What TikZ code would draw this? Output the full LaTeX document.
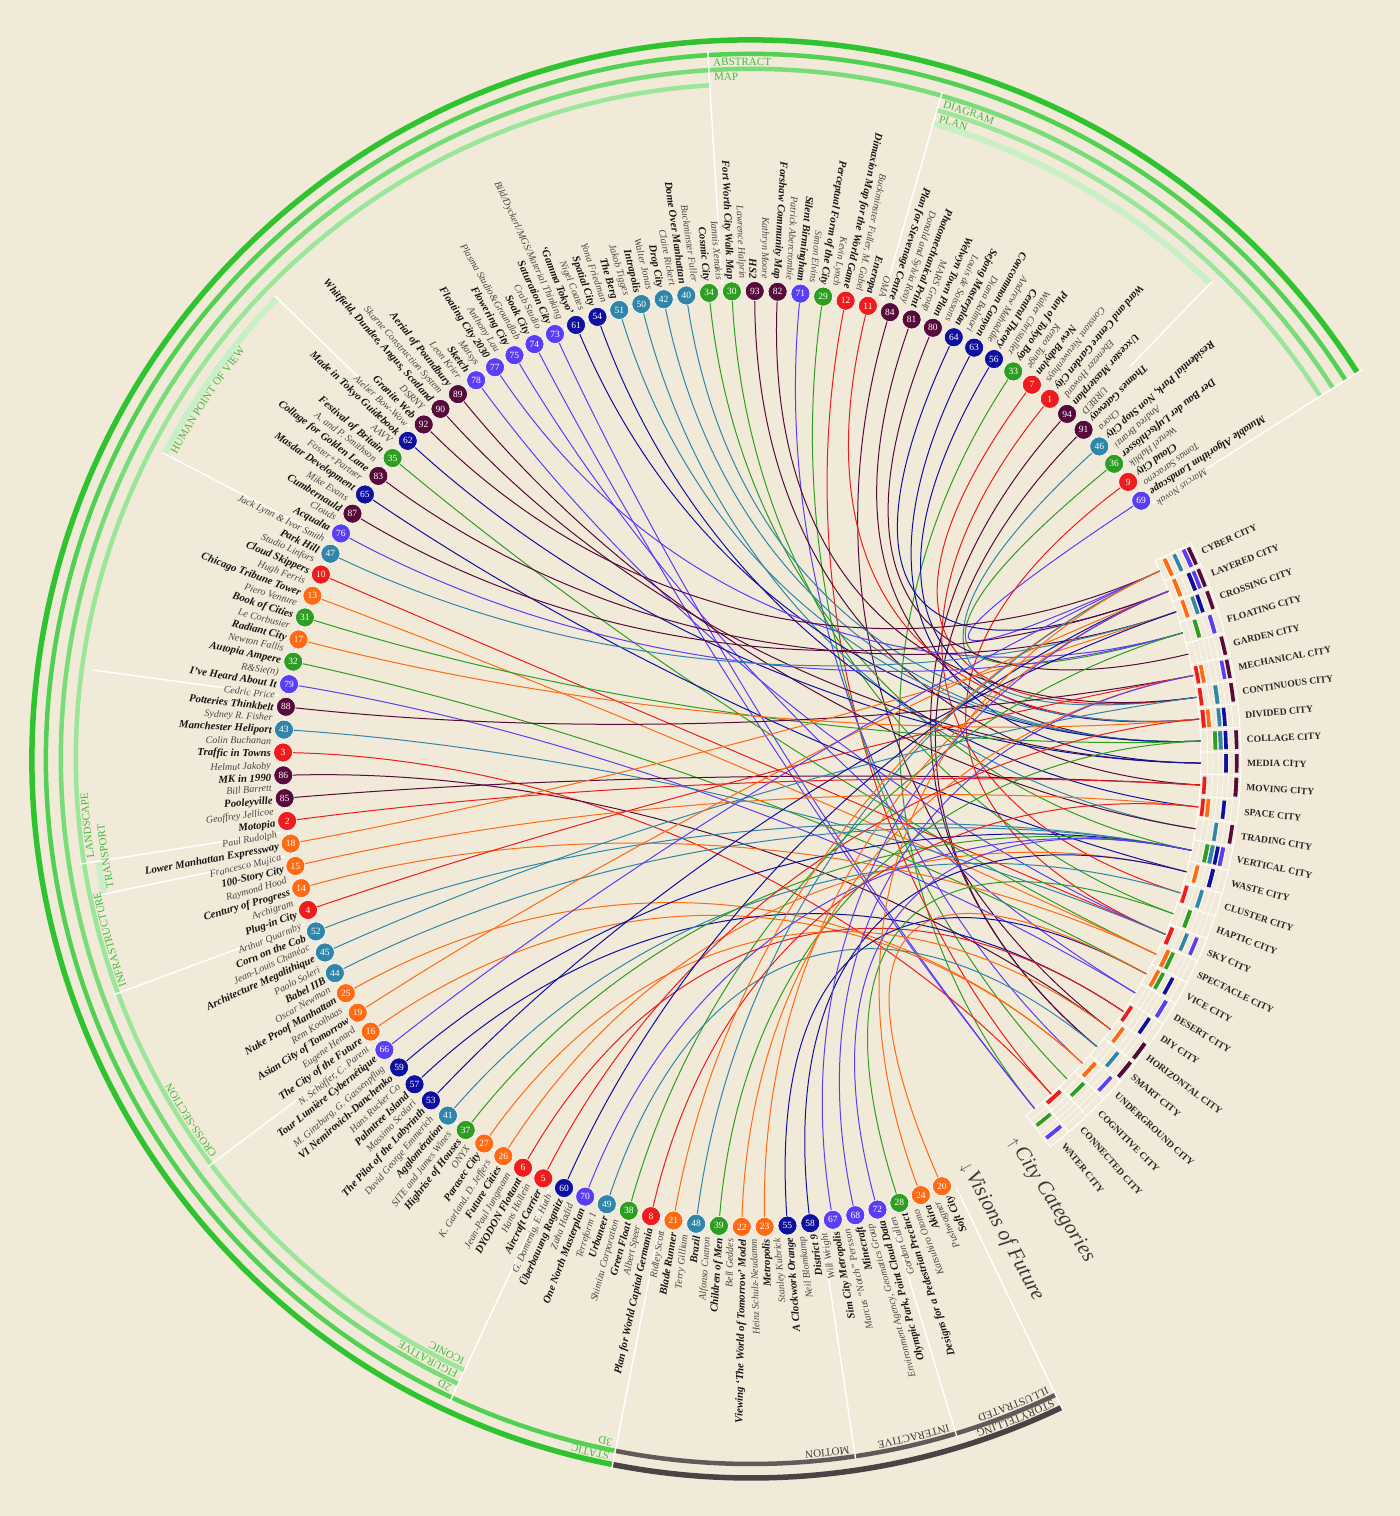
\documentclass[tikz,border=0pt]{standalone}
\usepackage{fontspec}
\setmainfont{Liberation Serif}
\usetikzlibrary{decorations.text}
\definecolor{bg}{HTML}{F1EAD8}
\definecolor{cRed}{HTML}{EE1C1C}
\definecolor{cOrange}{HTML}{FF6A13}
\definecolor{cGreen}{HTML}{2E9E22}
\definecolor{cTeal}{HTML}{2F86A8}
\definecolor{cNavy}{HTML}{10109E}
\definecolor{cViolet}{HTML}{5B3DF5}
\definecolor{cMaroon}{HTML}{560B3B}
\definecolor{gA}{HTML}{2FC42F}
\definecolor{gB}{HTML}{52D052}
\definecolor{gC}{HTML}{78DC78}
\definecolor{gD}{HTML}{9BE69B}
\definecolor{gE}{HTML}{C8F0C6}
\definecolor{dA}{HTML}{4A4343}
\definecolor{dB}{HTML}{625A5A}
\definecolor{lblG}{HTML}{3DBE3D}
\definecolor{lblD}{HTML}{3F3939}
\definecolor{authc}{HTML}{4A4545}
\definecolor{titc}{HTML}{151515}
\definecolor{catc}{HTML}{2A2626}
\definecolor{vtext}{HTML}{3B3838}

\newcommand\itemcolor[1]{\ifnum#1<13 cRed\else\ifnum#1<28 cOrange\else\ifnum#1<40 cGreen\else\ifnum#1<53 cTeal\else\ifnum#1<66 cNavy\else\ifnum#1<80 cViolet\else cMaroon\fi\fi\fi\fi\fi\fi}
\newcommand\itemlane[1]{\ifnum#1<13 0\else\ifnum#1<28 1\else\ifnum#1<40 2\else\ifnum#1<53 3\else\ifnum#1<66 4\else\ifnum#1<80 5\else 6\fi\fi\fi\fi\fi\fi}
\newcommand\seg[5]{\draw[draw=#1, line width=#5pt] (#3:#2pt) arc[start angle=#3, end angle=#4, radius=#2pt];}
\newcommand\rlabel[4]{\path[decorate, decoration={text along path, text align=left, text={|\color{#1}\fontsize{11}{12}\selectfont|#4}}] (#3:#2pt) arc[start angle=#3, end angle=#3-45, radius=#2pt];}

\def\items{1/69/{Mutable Algorithm Landscape}/{Marcus Novak}/1,
2/9/{Cloud City}/{Tomas Saraceno}/18,
3/36/{Der Bau der Luftschlösser}/{Wenzel Hablik}/4,
4/46/{Residential Park, Non Stop City}/{Andrea Branzi}/7,
5/91/{Thames Gateway}/{Chora}/24,
6/94/{Uxcester Masterplan}/{URBED}/24,
7/1/{Ward and Centre Garden City}/{Ebenezer Howard}/16,
8/7/{New Babylon}/{Constant Nieuwenhuys}/7,
9/33/{Plan of Tokyo Bay}/{Kenzo Tange}/28,
10/56/{Central Theory}/{Walter Christaller}/8,
11/63/{Concommon Canyon}/{Andrew Mahaddie}/10,
12/64/{Sejong Masterplan}/{Diana Balmori}/2,
13/80/{Welwyn Town Plan}/{Louis de Soissons}/5,
14/81/{Photomechanical Print}/{MARS Group}/9,
15/84/{Plan for Stevenage Centre}/{Donald and Sylvia Reay}/23,
16/11/{Eneropa}/{OMA}/8,
17/12/{Dimaxion Map for the World Game}/{Buckminster Fuller, M. Gabel}/27,
18/29/{Perceptual Form of the City}/{Kevin Lynch}/26,
19/71/{Silent Birmingham}/{Simon Elvins}/25,
20/82/{Forshaw Community Map}/{Patrick Abercrombie}/7,
21/93/{HS2}/{Kathryn Moore}/11,
22/30/{Fort Worth City Walk Map}/{Lawrence Halprin}/17,
23/34/{Cosmic City}/{Iannis Xenakis}/14,
24/40/{Dome Over Manhattan}/{Buckminster Fuller}/8,
25/42/{Drop City}/{Claire Rickert}/9,
26/50/{Intrapolis}/{Walter Jonas}/13,
27/51/{The Berg}/{Jakob Tigges}/9,
28/54/{Spatial City}/{Yona Friedman}/12,
29/61/{`Gamma Tokyo'}/{Nigel Coates}/9,
30/73/{Saturation City}/{Bild/Dyckerl/MGS/Material Thinking}/28,
31/74/{Soak City}/{Crab Studio}/28,
32/75/{Flowering City}/{Plasma Studio\&Groundlab}/21,
33/77/{Floating City 2030}/{Anthony Lau}/4,
34/78/{Sketch}/{Matsys}/18,
35/89/{Aerial of Poundbury}/{Leon Krier}/13,
36/90/{Whitfield, Dundee, Angus, Scotland}/{Skarne Construction System}/10,
37/92/{Granite Web}/{DSRNY}/1,
38/62/{Made in Tokyo Guidebook}/{Atelier Bow-Wow}/10,
39/35/{Festival of Britain}/{AAVV}/19,
40/83/{Collage for Golden Lane}/{A. and P. Smithson}/3,
41/65/{Masdar Development}/{Foster+Partner}/15,
42/87/{Cumbernauld}/{Mike Evans}/2,
43/76/{Acqualta}/{Clouds}/4,
44/47/{Park Hill}/{Jack Lynn \& Ivor Smith}/3,
45/10/{Cloud Skippers}/{Studio Linfors}/18,
46/13/{Chicago Tribune Tower}/{Hugh Ferris}/19,
47/31/{Book of Cities}/{Piero Venture}/9,
48/17/{Radiant City}/{Le Corbusier}/8,
49/32/{Autopia Ampere}/{Newton Fallis}/20,
50/79/{I've Heard About It}/{R\&Sie(n)}/21,
51/88/{Potteries Thinkbelt}/{Cedric Price}/6,
52/43/{Manchester Heliport}/{Sydney R. Fisher}/18,
53/3/{Traffic in Towns}/{Colin Buchanan}/27,
54/86/{MK in 1990}/{Helmut Jakoby}/23,
55/85/{Pooleyville}/{Bill Barrett}/11,
56/2/{Motopia}/{Geoffrey Jellicoe}/11,
57/18/{Lower Manhattan Expressway}/{Paul Rudolph}/3,
58/15/{100-Story City}/{Francesco Mujica}/12,
59/14/{Century of Progress}/{Raymond Hood}/19,
60/4/{Plug-in City}/{Archigram}/6,
61/52/{Corn on the Cob}/{Arthur Quarmby}/14,
62/45/{Architecture Megalithique}/{Jean-Louis Chanéac}/7,
63/44/{Babel IIB}/{Paolo Soleri}/14,
64/25/{Nuke Proof Manhattan}/{Oscar Newman}/25,
65/19/{Asian City of Tomorrow}/{Rem Koolhaas}/2,
66/16/{The City of the Future}/{Eugene Henard}/25,
67/66/{Tour Lumière Cybernétique}/{N. Schöffer, C. Parent}/1,
68/59/{VI Nemirovich-Danchenko}/{M. Ginzburg, G. Gassenpflug}/14,
69/57/{Palmtree Island}/{Hans Rucker Co}/22,
70/53/{The Pilot of the Labyrinth}/{Massimo Scolari}/3,
71/41/{Agglomération}/{David George Emmerich}/16,
72/37/{Highrise of Houses}/{SITE and James Wines}/14,
73/27/{Parasec City}/{ONYX}/23,
74/26/{Future Cities}/{K. Garland, D. Jeffers}/15,
75/6/{DYODON Flottant}/{Jean-Paul Jungmann}/22,
76/5/{Aircraft Carrier}/{Hans Hollein}/8,
77/60/{Überbauung Ragnitz}/{G. Domenig, E. Huth}/2,
78/70/{One North Masterplan}/{Zaha Hadid}/14,
79/49/{Urbaneer}/{Terreform 1}/24,
80/38/{Green Float}/{Shimizu Corporation}/4,
81/8/{Plan for World Capital Germania}/{Albert Speer}/12,
82/21/{Blade Runner}/{Ridley Scott}/1,
83/48/{Brazil}/{Terry Gilliam}/1,
84/39/{Children of Men}/{Alfonso Cuaron}/9,
85/22/{Viewing `The World of Tomorrow' Model}/{Bell Geddes}/6,
86/23/{Metropolis}/{Heinz Schulz-Neudamm}/2,
87/55/{A Clockwork Orange}/{Stanley Kubrick}/20,
88/58/{District 9}/{Neil Blomkamp}/15,
89/67/{Sim City Metropolis}/{Will Wright}/2,
90/68/{Minecraft}/{Marcus ``Notch'' Persson}/6,
91/72/{Olympic Park, Point Cloud Data}/{Environment Agency, Geomatics Group}/14,
92/28/{Designs for a Pedestrian Precinct}/{Gordon Cullen}/17,
93/24/{Akira}/{Katsuhiro Otomo}/1,
94/20/{Soft City}/{Pushwagner}/20}

\def\cats{1/CYBER CITY, 2/LAYERED CITY, 3/CROSSING CITY, 4/FLOATING CITY, 5/GARDEN CITY, 6/MECHANICAL CITY, 7/CONTINUOUS CITY, 8/DIVIDED CITY, 9/COLLAGE CITY, 10/MEDIA CITY, 11/MOVING CITY, 12/SPACE CITY, 13/TRADING CITY, 14/VERTICAL CITY, 15/WASTE CITY, 16/CLUSTER CITY, 17/HAPTIC CITY, 18/SKY CITY, 19/SPECTACLE CITY, 20/VICE CITY, 21/DESERT CITY, 22/DIY CITY, 23/HORIZONTAL CITY, 24/SMART CITY, 25/UNDERGROUND CITY, 26/COGNITIVE CITY, 27/CONNECTED CITY, 28/WATER CITY}

\begin{document}
\begin{tikzpicture}[x=1pt,y=1pt]
\fill[bg] (-751,-757) rectangle (649,759);
\useasboundingbox (-751,-757) rectangle (649,759);

% ---- outer classification rings
\seg{gA}{719}{258.9}{32.5}{5.5}
\seg{dA}{719}{295.6}{258.9}{5.5}
\seg{gB}{705}{258.9}{32.5}{4.5}
\seg{dB}{705}{295.6}{258.9}{4.5}
\seg{gC}{690}{244.9}{32.5}{4.5}
\seg{gD}{675}{244.9}{93.5}{4.5}
\seg{gD}{675}{74}{32.5}{4.5}
\seg{gE}{661}{74}{46}{6}
\seg{gE}{661}{152.5}{135.8}{6}
\seg{gE}{661}{191.8}{188.9}{6}

% ---- group separators
\foreach \ang/\rr/\rs in {32.5/725/476, 46/664/545, 74/694/476, 93.5/709/476, 135.8/664/476, 152.5/664/476, 172.3/664/476, 188.9/679/476, 191.8/664/476, 200.3/679/476, 216.9/679/476, 244.9/709/476, 258.9/725/476, 278.5/709/476, 286.9/709/476, 295.6/725/476}
  {\draw[white, line width=1.4pt] (\ang:\rs pt) -- (\ang:\rr pt);}

% ---- ring labels
\rlabel{lblG}{708}{258.5}{STATIC}
\rlabel{lblD}{708}{295.2}{STORYTELLING}
\rlabel{lblG}{694}{93.1}{ABSTRACT}
\rlabel{lblG}{694}{244.5}{2D}
\rlabel{lblG}{694}{258.5}{3D}
\rlabel{lblD}{694}{278.1}{MOTION}
\rlabel{lblD}{694}{286.5}{INTERACTIVE}
\rlabel{lblD}{694}{295.2}{ILLUSTRATED}
\rlabel{lblG}{679}{93.1}{MAP}
\rlabel{lblG}{679}{73.6}{DIAGRAM}
\rlabel{lblG}{679}{244.5}{FIGURATIVE}
\rlabel{lblG}{664}{73.6}{PLAN}
\rlabel{lblG}{664}{244.5}{ICONIC}
\rlabel{lblG}{664}{216.5}{CROSS-SECTION}
\rlabel{lblG}{664}{199.9}{INFRASTRUCTURE}
\rlabel{lblG}{664}{188.5}{LANDSCAPE}
\rlabel{lblG}{650}{152.1}{HUMAN POINT OF VIEW}
\rlabel{lblG}{650}{191.4}{TRANSPORT}

% ---- category slot grid
\foreach \j in {0,...,28}{\pgfmathsetmacro\tb{26.101-\j*2.802}\draw[white, line width=1pt] (\tb:450pt) -- (\tb:490pt);}
\foreach \rr/\w in {450/1, 456.65/0.5, 461.95/0.5, 467.25/0.5, 472.55/0.5, 477.85/0.5, 483.15/0.5, 490/1}
  {\draw[white, line width=\w pt] (26.101:\rr pt) arc[start angle=26.101, end angle=-52.355, radius=\rr pt];}

% ---- coordinates
\foreach \cat in {1,...,28}{\pgfmathsetmacro\tc{24.7-(\cat-1)*2.802}\coordinate (cat\cat) at (\tc:450pt);}
\foreach \idx/\nm/\ttl/\aut/\cat in \items {\pgfmathsetmacro\ti{33.5+(\idx-1)*2.802}\coordinate (p\nm) at (\ti:468pt);}

% ---- connectors
\foreach \idx/\nm/\ttl/\aut/\cat in \items {
  \pgfmathsetmacro\ti{33.5+(\idx-1)*2.802}
  \pgfmathsetmacro\tc{24.7-(\cat-1)*2.802}
  \edef\col{\itemcolor{\nm}}
  \draw[draw=\col, line width=1pt] (p\nm) .. controls (\ti:160pt) and (\tc:200pt) .. (cat\cat);
}

\draw[white, line width=1pt] (33.5:468pt) arc[start angle=33.5, end angle=294.1, radius=468pt];

% ---- items, dashes, labels
\foreach \idx/\nm/\ttl/\aut/\cat in \items {
  \pgfmathsetmacro\ti{33.5+(\idx-1)*2.802}
  \pgfmathsetmacro\tc{24.7-(\cat-1)*2.802}
  \edef\col{\itemcolor{\nm}}
  \edef\lane{\itemlane{\nm}}
  \pgfmathsetmacro\lr{454+5.3*\lane}
  \pgfmathsetmacro\da{\tc+1.1}
  \pgfmathsetmacro\db{\tc-1.1}
  \draw[draw=\col, line width=3.6pt] (\da:\lr pt) arc[start angle=\da, end angle=\db, radius=\lr pt];
  \node[circle, fill=\col, draw=white, line width=0.6pt, minimum size=19pt, inner sep=0pt, text=white, font=\fontsize{9.5}{10}\selectfont] (n\nm) at (p\nm) {\nm};
  \pgfmathsetmacro\tl{\ti-0.5}
  \pgfmathsetmacro\rot{\ti+180}
  \node[rotate=\rot, anchor=east, align=right, inner sep=0pt, font=\fontsize{10.8}{12.6}\selectfont] (lab\nm) at (\tl:480pt) {{\color{authc}\fontsize{10}{12.6}\selectfont\itshape \aut}\\{\color{titc}\bfseries\itshape \ttl}};
}

% ---- category labels
\foreach \cat/\cname in \cats {
  \pgfmathsetmacro\tc{24.7-(\cat-1)*2.802}
  \node[rotate=\tc, anchor=west, inner sep=0pt, font=\bfseries\fontsize{9.6}{10}\selectfont, text=catc] (catlab\cat) at (\tc:496pt) {\cname};
}

% ---- legends
\node[rotate=-57, anchor=west, inner sep=0pt, text=vtext, font=\itshape\fontsize{21}{24}\selectfont] (citycat) at (-55.6:462pt) {{\fontsize{15}{15}\selectfont$\uparrow$}\,City Categories};
\node[rotate=-61.6, anchor=west, inner sep=0pt, text=vtext, font=\itshape\fontsize{21}{24}\selectfont] (visions) at (-62.1:458pt) {{\fontsize{15}{15}\selectfont$\downarrow$}\,Visions of Future};
\end{tikzpicture}
\end{document}
